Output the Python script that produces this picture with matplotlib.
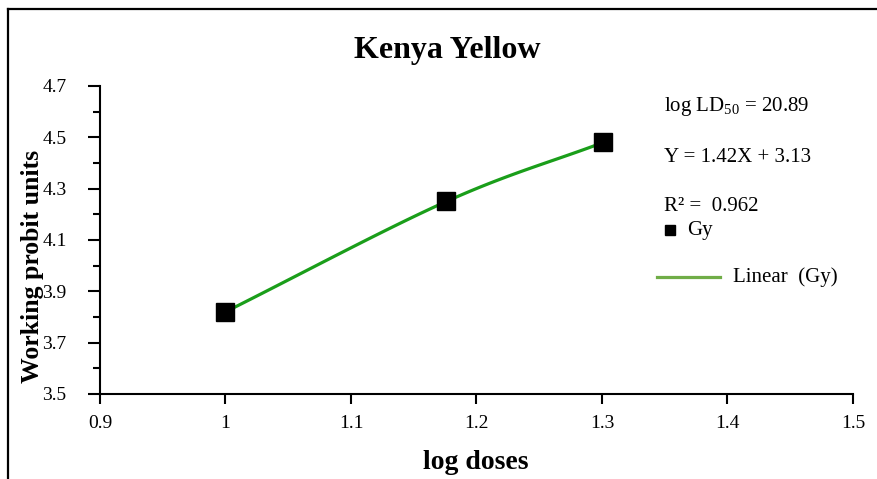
import numpy as np
import matplotlib
matplotlib.use("Agg")
import matplotlib.pyplot as plt
from matplotlib.lines import Line2D
from matplotlib.ticker import MultipleLocator

plt.rcParams['font.family'] = ['Liberation Serif', 'DejaVu Serif']
plt.rcParams['mathtext.fontset'] = 'custom'
plt.rcParams['mathtext.rm'] = 'Liberation Serif'

# data
log_doses = [1.0, 1.176, 1.301]
probits = [3.82, 4.25, 4.48]
x_ticks = [0.9, 1.0, 1.1, 1.2, 1.3, 1.4, 1.5]
x_tick_labels = ["0.9", "1", "1.1", "1.2", "1.3", "1.4", "1.5"]
y_ticks = [3.5, 3.7, 3.9, 4.1, 4.3, 4.5, 4.7]
ld50_text = "log LD$_{50}$ = 20.89"
eq_text = "Y = 1.42X + 3.13"
r2_text = "R² =  0.962"


def smooth_curve(xs, ys, n=60):
    """Catmull-Rom style smoothed line through the points."""
    p = np.column_stack([xs, ys]).astype(float)
    pts = np.vstack([p[0] - (p[1] - p[0]), p, p[-1] + (p[-1] - p[-2])])
    out = []
    for i in range(1, len(pts) - 2):
        p0, p1, p2, p3 = pts[i - 1], pts[i], pts[i + 1], pts[i + 2]
        c1 = p1 + (p2 - p0) / 6.0
        c2 = p2 - (p3 - p1) / 6.0
        t = np.linspace(0, 1, n)[:, None]
        seg = ((1 - t) ** 3) * p1 + 3 * ((1 - t) ** 2) * t * c1 + 3 * (1 - t) * t ** 2 * c2 + t ** 3 * p2
        out.append(seg if i == 1 else seg[1:])
    s = np.vstack(out)
    return s[:, 0], s[:, 1]


fig = plt.figure(figsize=(8.77, 4.79), dpi=100)
ax = fig.add_axes([0.114, 0.1775, 0.8586, 0.643])

sx, sy = smooth_curve(log_doses, probits)
ax.plot(sx, sy, color='#1a9e1a', lw=2.3, solid_capstyle='round', zorder=2)
ax.plot(log_doses, probits, 's', color='black', markersize=13, zorder=3)

ax.set_xlim(0.9, 1.5)
ax.set_ylim(3.5, 4.7)
ax.set_xticks(x_ticks)
ax.set_xticklabels(x_tick_labels)
ax.set_yticks(y_ticks)
ax.set_yticklabels([f"{v:.1f}" for v in y_ticks])
ax.yaxis.set_minor_locator(MultipleLocator(0.1))

for side in ('top', 'right'):
    ax.spines[side].set_visible(False)
for side in ('left', 'bottom'):
    ax.spines[side].set_linewidth(1.5)

ax.tick_params(axis='both', which='major', direction='out', width=1.5,
               labelsize=14, colors='black')
ax.tick_params(axis='x', which='major', length=7, pad=8)
ax.tick_params(axis='y', which='major', length=9, pad=15)
ax.tick_params(axis='y', which='minor', direction='out', length=5, width=1.5)

# titles and axis labels
fig.text(0.51, 0.895, "Kenya Yellow", ha='center', va='center',
         fontsize=23, fontweight='bold')
fig.text(0.542, 0.035, "log doses", ha='center', va='center',
         fontsize=20, fontweight='bold')
fig.text(0.037, 0.444, "Working probit units", ha='center', va='center',
         rotation=90, fontsize=18.5, fontweight='bold')

# annotations
fig.text(0.757, 0.778, ld50_text, ha='left', va='center', fontsize=15)
fig.text(0.757, 0.672, eq_text, ha='left', va='center', fontsize=15)
fig.text(0.757, 0.568, r2_text, ha='left', va='center', fontsize=15)

# legend
fig.add_artist(Line2D([0.764], [0.519], marker='s', color='black',
                      markersize=7, linestyle='none', transform=fig.transFigure))
fig.text(0.783, 0.519, "Gy", ha='left', va='center', fontsize=15)
fig.add_artist(Line2D([0.749, 0.821], [0.422, 0.422], color='#70ad47', lw=2.3,
                      transform=fig.transFigure))
fig.text(0.836, 0.422, "Linear  (Gy)", ha='left', va='center', fontsize=15)

# outer frame (top and left edges)
fig.add_artist(Line2D([0.009, 1.0], [0.981, 0.981], color='black', lw=1.6,
                      transform=fig.transFigure))
fig.add_artist(Line2D([0.009, 0.009], [0.0, 0.981], color='black', lw=1.6,
                      transform=fig.transFigure))

fig.savefig("out.png", dpi=100, facecolor='white')
